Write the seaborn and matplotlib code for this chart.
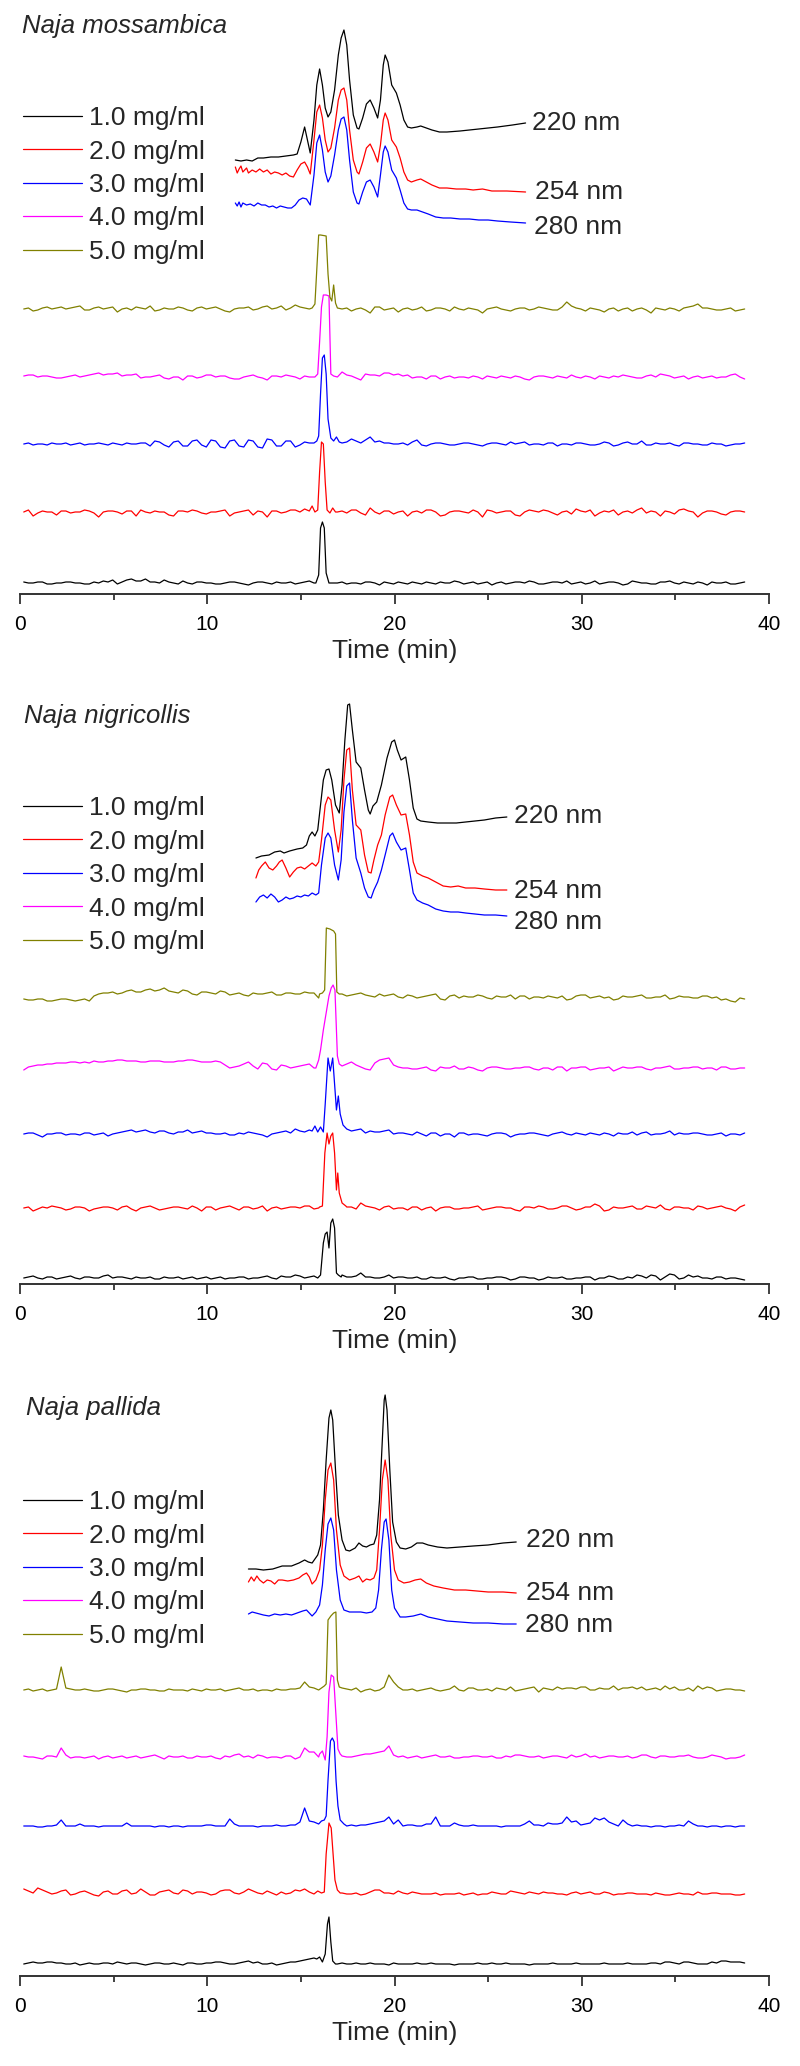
import numpy as np
import matplotlib
matplotlib.use("Agg")
import matplotlib.pyplot as plt
import seaborn as sns

# ------------------------------------------------------------------ data
SPECIES = ["Naja mossambica", "Naja nigricollis", "Naja pallida"]
CONC_LABELS = ["1.0 mg/ml", "2.0 mg/ml", "3.0 mg/ml", "4.0 mg/ml", "5.0 mg/ml"]
WAVELENGTHS = ["220 nm", "254 nm", "280 nm"]
X_TICKS = [0, 10, 20, 30, 40]
X_MINOR = [5, 15, 25, 35]

# ---- Naja mossambica : UV chromatograms (time min, signal)
MOS_220_T = [11.5, 11.8, 12.1, 12.4, 12.7, 13.0, 13.4, 13.8, 14.2, 14.6, 14.8, 15.0, 15.2, 15.35, 15.5, 15.7, 15.85, 16.0, 16.15, 16.3, 16.45, 16.6, 16.8, 17.0, 17.15, 17.3, 17.45, 17.6, 17.8, 18.0, 18.1, 18.3, 18.5, 18.7, 18.9, 19.1, 19.25, 19.4, 19.5, 19.65, 19.85, 20.1, 20.3, 20.5, 20.7, 20.9, 21.2, 21.4, 21.7, 22.0, 22.4, 22.8, 23.5, 24.5, 25.5, 26.3, 27.0]
MOS_220_Y = [434, 433, 434, 433, 436, 436, 437, 437, 438, 439, 440, 452, 467, 454, 441, 474, 509, 525, 509, 486, 477, 482, 504, 539, 556, 564, 549, 514, 479, 466, 465, 476, 490, 494, 486, 476, 494, 529, 539, 532, 509, 501, 489, 474, 467, 466, 467, 468, 466, 464, 462, 462, 463, 465, 467, 469, 471]
MOS_254_T = [11.5, 11.6, 11.7, 11.8, 11.9, 12.1, 12.2, 12.4, 12.6, 12.8, 13.0, 13.2, 13.4, 13.6, 13.8, 14.0, 14.2, 14.4, 14.6, 14.8, 15.0, 15.2, 15.35, 15.5, 15.7, 15.85, 16.0, 16.15, 16.3, 16.45, 16.6, 16.8, 17.0, 17.15, 17.3, 17.45, 17.6, 17.8, 18.0, 18.1, 18.3, 18.5, 18.7, 18.9, 19.1, 19.25, 19.4, 19.5, 19.65, 19.85, 20.1, 20.3, 20.5, 20.7, 20.9, 21.2, 21.4, 21.7, 22.0, 22.4, 22.8, 23.3, 23.8, 24.2, 24.7, 25.2, 26.0, 27.0]
MOS_254_Y = [427, 421, 425, 428, 422, 426, 421, 424, 422, 425, 422, 424, 420, 422, 421, 419, 421, 418, 417, 424, 430, 432, 427, 420, 454, 482, 489, 476, 454, 442, 446, 466, 494, 504, 506, 494, 464, 434, 422, 420, 432, 446, 450, 442, 432, 449, 474, 481, 474, 454, 447, 436, 422, 414, 412, 414, 415, 412, 409, 406, 406, 405, 405, 404, 405, 403, 403, 402]
MOS_280_T = [11.5, 11.6, 11.7, 11.8, 11.9, 12.1, 12.3, 12.5, 12.7, 12.9, 13.1, 13.3, 13.5, 13.7, 13.9, 14.1, 14.3, 14.5, 14.7, 14.9, 15.1, 15.3, 15.5, 15.7, 15.85, 16.0, 16.15, 16.3, 16.45, 16.6, 16.8, 17.0, 17.15, 17.3, 17.45, 17.6, 17.8, 18.0, 18.1, 18.3, 18.5, 18.7, 18.9, 19.1, 19.25, 19.4, 19.5, 19.65, 19.85, 20.1, 20.3, 20.5, 20.7, 20.9, 21.2, 21.5, 21.8, 22.2, 22.6, 23.0, 23.5, 24.0, 24.5, 25.0, 25.5, 26.2, 27.0]
MOS_280_Y = [391, 388, 392, 387, 391, 389, 390, 388, 391, 389, 389, 387, 388, 386, 388, 387, 386, 386, 389, 394, 396, 395, 389, 419, 451, 459, 444, 422, 412, 418, 439, 464, 475, 477, 464, 434, 402, 391, 390, 402, 412, 414, 407, 397, 419, 442, 448, 442, 424, 416, 404, 391, 385, 384, 384, 382, 380, 377, 376, 376, 375, 375, 374, 374, 373, 372, 371]

# ---- Naja mossambica : MS traces (baseline readings on a 0.5-min grid, half-step readings, peak region)
MOS_C1_NOISE = [1, 0, 1, -1, 0, 1, 0, -1, 0, 1, -1, 3, 2, 4, 1, 3, 0, 2, -1, 1, 0, -1, 1, 0, -2, 1, 0, 1, 0, -1, 1, 0, 0, 0, 1, 0, -1, 1, -2, 0, 1, -1, 0, 1, -1, 0, 2, -1, 1, 0, -2, 1, 0, 1, 2, -1, 0, 1, 2, 0, -1, 2, 0, 1, -2, 2, 0, -1, 1, 2, -1, 0, 1, -2, 0, 1, -1, 1]
MOS_C1_MID = [0, 1, -1, 0, 1, 0, -1, 1, 2, 3, 1, 4, 2, 1, 0, 1, -1, 0, 1, 0, -1, 0, 1, -1, 0, 1, -1, 0, 1, 0, 2, 0, 0, 0, -1, 0, 1, 0, 1, -1, 0, 1, -1, 0, 1, 0, 1, 0, -1, 1, 0, -1, 1, 0, 1, -1, 1, 0, -1, 1, 0, -1, 1, 0, -1, 1, 0, -1, 1, 0, 1, -1, 0, 1, 0, -1, 0]
MOS_C2_NOISE = [0, -4, 1, 0, 1, -1, 0, 1, -5, 1, 0, 1, -4, 0, 1, 0, -4, 1, 2, -1, 0, 1, -4, 0, 2, 1, -5, 1, 0, 2, 3, 4, 0, 0, 1, 2, -1, 4, -2, 1, 0, -4, 1, 2, 0, -3, 1, 0, 2, -5, 1, 0, 1, -4, 2, 0, 1, -3, 1, 3, 0, -4, 1, 2, 0, -1, 4, 1, -4, 0, 2, 1, -5, 1, 0, -3, 1, 0]
MOS_C2_MID = [2, -1, 0, -3, 1, 0, 2, -1, 0, 1, -2, 1, 2, -1, 0, -3, 1, 0, 1, -2, 0, 2, -1, 1, -3, 0, 1, -1, 2, 0, 1, 0, 0, 0, -1, 2, -3, 0, 1, -2, 1, 0, -1, 2, -4, 0, 1, -1, 0, 2, -1, 1, -3, 0, 1, 2, -1, 0, -2, 1, 2, -1, 0, -3, 1, 2, -1, 0, 1, -2, 3, 0, -1, 1, -2, 0, 1]
MOS_C3_NOISE = [0, -1, 0, 1, 0, -1, 1, 0, 1, -1, 0, 1, 0, 1, 3, -1, 2, -2, 3, -1, 4, -3, 3, -2, 4, -3, 5, -2, 3, -3, 2, 2, 0, 0, 1, 5, 1, 7, 3, 1, 0, -1, 4, -2, 1, 0, -1, 1, 0, -2, 1, 0, 2, 1, -1, 0, 1, -2, 0, 1, 0, -1, 2, -2, 1, 0, 3, -1, 0, 1, -2, 1, 0, -1, 0, -2, 0, 1]
MOS_C3_MID = [1, 0, -1, 0, 1, 0, -1, 0, 0, 1, -1, 0, 1, -2, 2, -3, 3, -2, 4, -3, 3, -4, 4, -3, 3, -4, 4, -2, 3, -1, 1, 0, 0, 0, 2, 3, 4, 2, 1, 0, 1, 2, -1, 0, 1, -1, 0, 1, -1, 0, 1, -1, 0, 2, 0, -1, 1, 0, -1, 1, -1, 0, 1, -1, 2, 0, -1, 1, 0, -1, 1, 0, -1, 1, 0, -1, 0]
MOS_C4_NOISE = [1, 2, 1, 0, -1, 1, 0, 2, 4, 3, 4, 2, 3, 0, 1, -1, 0, -3, 1, 0, 2, 1, -1, -2, 1, 0, -3, 1, 2, 0, 1, 0, 0, 0, 5, 1, -3, 2, 1, 4, 3, 2, 0, -2, 1, 0, -1, 0, 1, -2, 0, 1, -1, 0, -3, 1, 0, 1, -1, 0, 1, -2, 0, 1, 2, 0, -1, 2, 3, 1, 0, -2, 1, 0, -1, 0, 3, -2]
MOS_C4_MID = [2, 0, 1, -1, 0, 2, 1, 3, 2, 3, 1, 2, -1, 0, 2, -2, 0, 1, -1, 2, 0, 1, -2, 0, 2, -1, 1, 0, 1, -2, 0, 0, 0, 0, 2, -1, 3, 2, 4, 2, 1, -1, 0, 1, -2, 1, 0, -1, 0, 1, -1, 0, 1, -2, 0, 1, -1, 0, 2, -1, 0, 1, -1, 0, 1, -1, 1, 0, 2, -1, 1, 0, -1, 1, 0, 2, 0]
MOS_C5_NOISE = [0, -2, 1, 0, 2, 1, 3, -1, 2, 1, -3, 1, 2, 0, -2, 1, 0, 1, -2, 2, 1, 0, -3, 1, 2, 0, 3, 1, -1, 4, 1, 2, 0, 0, 0, -2, 1, -4, 2, 0, -3, 1, 0, -2, 1, 0, 2, -1, 0, -4, 1, 0, -2, 1, -1, 2, 0, -1, 7, 1, -2, 0, -3, 1, 0, -2, 1, -4, 0, 1, -2, 2, 5, 1, -1, 0, -2, 0]
MOS_C5_MID = [1, -1, 2, 1, 0, 2, -1, 1, 0, 2, 0, -1, 1, 3, -1, 0, 2, -1, 1, 0, 2, -2, 0, 1, -1, 2, 0, 3, 1, 2, 0, 0, 0, 0, 1, 0, -1, 2, -1, 1, 0, -1, 2, -1, 1, -2, 0, 1, -1, 0, 2, -1, 0, 1, 0, 1, -1, 2, 3, 0, 1, -1, 0, -2, 1, 0, -1, 1, -1, 0, 1, 3, 1, 0, -1, 1, -1]
MOS_C1_PEAK_T = [15.8, 15.95, 16.05, 16.15, 16.25, 16.35, 16.5]
MOS_C1_PEAK_V = [0, 8, 55, 61, 55, 10, 0]
MOS_C2_PEAK_T = [15.6, 15.75, 15.9, 16.0, 16.1, 16.2, 16.3, 16.4, 16.55, 16.7, 16.85]
MOS_C2_PEAK_V = [6, 0, 2, 40, 70, 68, 30, 2, -1, 4, 0]
MOS_C3_PEAK_T = [15.7, 15.85, 15.95, 16.05, 16.15, 16.25, 16.35, 16.45, 16.6, 16.75, 16.9, 17.05]
MOS_C3_PEAK_V = [1, 3, 8, 50, 86, 89, 70, 25, 6, 3, 7, 2]
MOS_C4_PEAK_T = [15.75, 15.9, 16.0, 16.1, 16.2, 16.35, 16.5, 16.6, 16.75]
MOS_C4_PEAK_V = [0, 3, 35, 70, 82, 82, 81, 3, 1]
MOS_C5_PEAK_T = [15.6, 15.75, 15.85, 15.95, 16.05, 16.35, 16.45, 16.55, 16.65, 16.75, 16.85, 16.95]
MOS_C5_PEAK_V = [1, 5, 40, 74, 74, 73, 35, 12, 8, 24, 6, 1]

# ---- Naja nigricollis
NIG_220_T = [12.6, 12.9, 13.3, 13.6, 13.9, 14.1, 14.4, 14.8, 15.1, 15.3, 15.45, 15.6, 15.75, 15.9, 16.05, 16.2, 16.35, 16.5, 16.65, 16.85, 17.05, 17.2, 17.35, 17.5, 17.6, 17.75, 17.95, 18.2, 18.4, 18.6, 18.7, 18.85, 19.05, 19.3, 19.6, 19.85, 20.0, 20.15, 20.35, 20.6, 20.8, 21.0, 21.2, 21.4, 21.8, 22.3, 22.8, 23.3, 23.8, 24.3, 24.8, 25.4, 26.0]
NIG_220_Y = [426, 428, 429, 432, 433, 431, 433, 435, 436, 439, 448, 452, 448, 454, 479, 504, 514, 515, 504, 479, 471, 499, 544, 579, 580, 554, 522, 516, 494, 474, 470, 478, 482, 499, 526, 542, 544, 534, 524, 527, 504, 476, 465, 463, 462, 461, 461, 461, 462, 463, 464, 466, 467]
NIG_254_T = [12.6, 12.75, 12.9, 13.1, 13.3, 13.5, 13.7, 13.85, 14.0, 14.2, 14.4, 14.6, 14.8, 15.0, 15.2, 15.4, 15.6, 15.8, 15.95, 16.1, 16.3, 16.45, 16.6, 16.8, 17.0, 17.15, 17.3, 17.45, 17.6, 17.75, 17.95, 18.2, 18.4, 18.6, 18.75, 18.9, 19.1, 19.3, 19.5, 19.75, 19.9, 20.1, 20.35, 20.6, 20.8, 21.0, 21.2, 21.5, 21.8, 22.2, 22.6, 23.0, 23.4, 23.8, 24.3, 24.8, 25.4, 26.0]
NIG_254_Y = [406, 414, 418, 422, 416, 414, 418, 422, 424, 416, 407, 412, 416, 417, 415, 418, 421, 418, 422, 444, 479, 487, 484, 454, 432, 454, 504, 534, 536, 494, 459, 454, 429, 412, 411, 424, 439, 449, 469, 487, 489, 479, 469, 470, 449, 422, 411, 408, 406, 402, 398, 397, 398, 396, 396, 395, 394, 394]
NIG_280_T = [12.6, 12.8, 13.0, 13.2, 13.4, 13.6, 13.8, 14.0, 14.2, 14.4, 14.6, 14.8, 15.0, 15.2, 15.4, 15.6, 15.8, 15.95, 16.1, 16.3, 16.45, 16.6, 16.8, 17.0, 17.15, 17.3, 17.45, 17.6, 17.75, 17.95, 18.2, 18.4, 18.6, 18.75, 18.9, 19.1, 19.3, 19.5, 19.75, 19.9, 20.1, 20.35, 20.6, 20.8, 21.0, 21.2, 21.5, 21.8, 22.2, 22.6, 23.0, 23.4, 23.8, 24.3, 24.8, 25.4, 26.0]
NIG_280_Y = [382, 387, 389, 386, 390, 387, 382, 384, 387, 385, 386, 388, 387, 389, 388, 391, 389, 391, 419, 446, 451, 446, 419, 404, 424, 472, 498, 501, 464, 426, 411, 396, 387, 386, 394, 402, 414, 429, 448, 451, 442, 434, 436, 414, 391, 384, 381, 379, 375, 373, 372, 372, 371, 370, 369, 369, 368]

NIG_C1_NOISE = [0, 2, -1, 1, 0, 2, -1, 1, 0, 3, 1, 0, 1, 0, -1, 1, 0, -1, 1, 0, -1, 1, 0, 1, -1, 0, 2, -1, 1, 3, 0, 2, 0, 0, 3, 1, 5, 1, 0, 3, 1, 0, 1, -1, 0, 1, -2, 0, 1, -1, 0, 1, -2, 1, 0, -2, 1, 0, -1, 0, 1, -2, 0, 1, -1, 0, 2, 3, -2, 4, -1, 3, 2, 0, 1, -1, 0, -2]
NIG_C1_MID = [1, 0, 1, -1, 1, 0, 1, 0, 2, 0, 1, -1, 0, 1, -1, 0, 1, 0, -1, 1, 0, -1, 0, 1, 0, 1, 0, 2, 1, 2, 1, 0, 0, 0, 1, 2, 1, 0, 1, 0, 1, 0, -1, 1, 0, -1, 0, 1, -1, 0, 1, 0, -1, 1, 0, -1, 0, 1, -1, 0, 1, 0, 2, -1, 1, 3, 0, 2, 1, 3, 0, 1, 0, -1, 1, 0, -1]
NIG_C2_NOISE = [0, -3, 1, 2, 0, -1, 1, -3, 0, 1, -2, 2, -3, 1, 0, -1, 1, 0, 2, -3, 1, 0, 2, -2, 1, 0, -3, 1, 0, 1, 2, -1, 0, 0, 2, 1, 5, 1, -2, 2, 0, -2, 1, 0, -3, 1, -1, 0, 1, -2, 0, 1, 0, -3, 1, 2, -1, 0, 2, -2, 1, 4, -3, 1, 0, 2, -1, 1, 3, -2, 1, 0, 2, -1, 1, 0, -3, 3]
NIG_C2_MID = [1, -1, 0, 1, -2, 1, 0, -1, 1, 0, 1, -1, 0, 2, -2, 0, 1, -1, 0, 1, -2, 1, 0, 1, -1, 2, 0, -1, 1, 0, 2, 0, 0, 0, 1, -1, 2, 0, 1, -1, 0, 1, -2, 1, 0, 1, -1, 0, 2, -1, 1, 0, -2, 1, 0, 1, -1, 2, 0, -1, 1, 2, -2, 0, 1, -1, 2, 0, -1, 1, 0, -2, 1, 0, 2, -1, 1]
NIG_C3_NOISE = [0, 1, -3, 0, 1, 0, -1, 1, 0, -2, 1, 3, 2, 4, 1, 3, 0, 2, 1, 3, 1, 0, -1, 1, 2, 0, -3, 1, 3, 5, 2, 6, 0, 0, 0, 3, 5, 3, 2, 4, 1, 0, 2, -2, 1, 0, -3, 1, 0, -1, 0, 1, -3, 0, 1, 0, -2, 1, 0, 1, -1, 0, 1, -2, 0, 2, 1, -1, 0, 3, 1, 0, 1, -1, 0, -2, 0, 1]
NIG_C3_MID = [1, -1, 0, 1, -1, 0, 1, -1, 1, 0, 2, 4, 3, 2, 3, 1, 2, 4, 2, 1, 0, 1, -1, 0, 1, -1, 0, 2, 1, 3, 4, 0, 0, 0, 2, 4, 1, 2, 3, 0, 1, -1, 0, 1, -2, 0, 1, -1, 0, -2, 1, 0, -1, 0, 1, -1, 0, 2, -1, 0, 1, -1, 0, 1, 0, -1, 2, 0, 1, -1, 0, 1, 0, -1, 1, 0, -1]
NIG_C4_NOISE = [-2, 2, 3, 4, 5, 6, 5, 5, 6, 7, 8, 7, 7, 6, 7, 6, 6, 7, 8, 6, 6, 6, 0, 2, 6, -1, 4, -2, 2, 1, 3, 0, 0, 0, 2, 6, 1, -2, 8, 10, 1, 0, -1, 1, -3, 0, 2, -1, 0, -3, 1, 0, -1, 0, 1, -2, 0, 1, -3, 0, 1, -1, 0, -3, 1, 0, 1, -2, 0, 2, -1, 0, 1, 0, -2, 1, -1, 0]
NIG_C4_MID = [1, 3, 4, 5, 5, 6, 6, 7, 6, 7, 8, 7, 6, 7, 7, 6, 7, 8, 7, 6, 7, 3, 1, 4, 2, 5, -1, 3, 0, 2, 4, 0, 0, 0, 4, 3, -1, 5, 9, 3, 0, -1, 0, -2, 1, 0, -1, 1, -2, 0, 1, -1, 0, 1, -1, 0, -2, 1, 0, 1, -2, 0, 1, -1, 0, 1, -1, 0, 1, -1, 0, 1, -1, 0, 1, -1, 0]
NIG_C5_NOISE = [-1, -2, -1, -3, -1, -2, -2, -3, 4, 5, 4, 7, 6, 8, 7, 10, 6, 8, 4, 6, 5, 7, 3, 5, 2, 4, 5, 3, 5, 4, 6, 5, 0, 0, 4, 3, 5, 2, 4, 3, 1, 3, 0, 2, 4, -2, 3, 2, 1, 2, -1, 1, 3, 2, -1, 1, 2, 0, -2, 2, 3, 1, 0, -2, 2, 1, 3, 0, 1, -1, 2, 1, 0, 2, 1, -1, -4, -1]
NIG_C5_MID = [-2, -1, -3, -2, -1, -3, -1, 2, 5, 6, 5, 8, 6, 9, 8, 7, 5, 7, 3, 6, 4, 6, 4, 3, 5, 4, 6, 3, 5, 4, 5, 0, 0, 0, 2, 4, 3, 1, 2, 4, 0, 2, 1, 3, -1, 2, 0, 1, 3, 0, 2, 1, -1, 2, 1, 0, 1, 2, -1, 3, 0, 2, 1, -1, 1, 2, 0, 1, 3, 0, 1, 0, 2, 0, -2, -3, 0]
NIG_C1_PEAK_T = [15.9, 16.05, 16.2, 16.3, 16.4, 16.5, 16.6, 16.7, 16.8, 16.9, 17.0, 17.15]
NIG_C1_PEAK_V = [0, 3, 35, 44, 46, 30, 55, 59, 50, 5, 3, 1]
NIG_C2_PEAK_T = [16.0, 16.15, 16.28, 16.4, 16.5, 16.6, 16.7, 16.8, 16.9, 16.97, 17.05, 17.2, 17.4]
NIG_C2_PEAK_V = [1, 2, 55, 75, 64, 72, 75, 55, 18, 35, 15, 5, 2]
NIG_C3_PEAK_T = [15.6, 15.75, 15.9, 16.05, 16.2, 16.3, 16.45, 16.57, 16.7, 16.8, 16.9, 17.0, 17.1, 17.25, 17.45]
NIG_C3_PEAK_V = [3, 8, 2, 7, 2, 30, 76, 63, 76, 50, 24, 38, 20, 9, 5]
NIG_C4_PEAK_T = [15.8, 15.95, 16.05, 16.2, 16.35, 16.5, 16.62, 16.72, 16.82, 16.95, 17.05]
NIG_C4_PEAK_V = [0, 8, 18, 38, 55, 72, 80, 83, 78, 12, 4]
NIG_C5_PEAK_T = [16.0, 16.15, 16.27, 16.36, 16.55, 16.75, 16.85, 16.92, 17.05]
NIG_C5_PEAK_V = [4, 5, 8, 70, 69, 67, 64, 6, 4]

# ---- Naja pallida
PAL_220_T = [12.2, 12.6, 13.0, 13.5, 14.0, 14.5, 14.9, 15.2, 15.4, 15.6, 15.9, 16.05, 16.2, 16.35, 16.5, 16.6, 16.7, 16.85, 17.0, 17.2, 17.4, 17.6, 17.9, 18.1, 18.3, 18.5, 18.7, 18.9, 19.05, 19.2, 19.35, 19.45, 19.5, 19.6, 19.75, 19.9, 20.1, 20.3, 20.6, 20.9, 21.2, 21.5, 21.8, 22.3, 22.8, 23.5, 24.2, 25.0, 25.8, 26.5]
PAL_220_Y = [407, 407, 406, 407, 410, 410, 413, 416, 414, 413, 421, 431, 466, 516, 558, 566, 556, 506, 461, 436, 426, 425, 428, 433, 430, 429, 431, 432, 441, 476, 536, 576, 581, 566, 506, 454, 434, 428, 427, 429, 433, 433, 431, 429, 428, 429, 430, 431, 433, 434]
PAL_254_T = [12.2, 12.35, 12.5, 12.65, 12.8, 13.0, 13.2, 13.4, 13.6, 13.8, 14.0, 14.3, 14.6, 14.9, 15.1, 15.3, 15.45, 15.6, 15.8, 16.0, 16.15, 16.3, 16.45, 16.6, 16.75, 16.9, 17.1, 17.3, 17.6, 17.9, 18.1, 18.3, 18.5, 18.7, 18.9, 19.05, 19.2, 19.35, 19.5, 19.65, 19.8, 20.0, 20.2, 20.5, 20.8, 21.1, 21.4, 21.7, 22.1, 22.6, 23.2, 23.8, 24.4, 25.0, 25.8, 26.5]
PAL_254_Y = [394, 399, 395, 400, 396, 393, 396, 395, 392, 396, 396, 395, 396, 398, 401, 403, 399, 392, 396, 406, 431, 476, 506, 513, 496, 446, 411, 400, 396, 398, 400, 394, 397, 396, 398, 406, 446, 496, 516, 496, 441, 406, 396, 393, 394, 396, 397, 393, 390, 388, 386, 386, 385, 384, 384, 383]
PAL_280_T = [12.2, 12.4, 12.6, 12.8, 13.0, 13.3, 13.6, 13.9, 14.2, 14.5, 14.8, 15.1, 15.3, 15.5, 15.6, 15.8, 16.0, 16.15, 16.3, 16.45, 16.6, 16.75, 16.9, 17.1, 17.3, 17.6, 17.9, 18.2, 18.5, 18.8, 19.0, 19.15, 19.3, 19.45, 19.55, 19.7, 19.85, 20.0, 20.3, 20.6, 21.0, 21.4, 21.8, 22.3, 22.8, 23.5, 24.2, 25.0, 25.8, 26.5]
PAL_280_Y = [362, 364, 363, 362, 361, 360, 362, 361, 362, 361, 363, 365, 366, 362, 360, 364, 371, 391, 426, 452, 458, 446, 406, 376, 366, 364, 364, 364, 363, 364, 368, 386, 426, 454, 457, 436, 386, 368, 359, 359, 360, 362, 359, 357, 355, 354, 353, 353, 352, 352]

PAL_C1_NOISE = [0, 2, 1, 2, 1, 0, -1, 1, 0, 1, 2, 0, 1, -1, 1, 0, 1, -1, 1, 0, 1, 2, 0, 1, 3, 2, 0, -1, 1, 2, 4, 6, 0, 0, 1, 0, 0, 1, 0, -1, 0, 0, 1, 0, 0, 0, -1, 0, 0, 0, 1, 0, 0, 0, -1, 0, 0, 0, 0, 1, 0, 0, 1, 0, 0, 0, 0, 1, 0, 2, 0, 2, 0, 0, 1, 3, 2, 1]
PAL_C1_MID = [1, 1, 2, 1, 0, 1, 0, 0, 1, 0, 1, 1, 0, 0, 1, 0, 0, 1, 0, 1, 2, 1, 0, 2, 1, 0, 1, 0, 2, 3, 5, 0, 0, 0, 0, 1, 0, 0, 0, 1, 0, 0, 0, 1, 0, 0, 0, 0, 1, 0, 0, 1, 0, 0, 0, 0, 1, 0, 0, 0, 0, 0, 0, 0, 1, 0, 0, 1, 2, 1, 2, 1, 0, 2, 3, 2, 2]
PAL_C2_NOISE = [5, 1, 4, 0, 3, -1, 2, 1, -2, 3, 0, 4, 1, 2, -1, 3, 1, 4, 0, 2, -1, 3, 4, 0, 5, 1, 3, -1, 0, 4, 5, 0, 0, 0, 1, 0, -1, 2, 4, 1, 3, 0, 1, 0, 1, 0, 0, -1, 1, 0, 2, 0, 3, 1, 2, 0, 1, 0, -1, 2, 1, 0, 2, -1, 0, 1, 0, -1, 0, -1, 1, 0, 2, 0, 1, 0, -1, 0]
PAL_C2_MID = [3, 6, 2, 1, 4, 0, 3, -1, 2, 0, 3, 0, 5, -1, 2, 4, 0, 3, 2, 1, 0, 4, 1, 2, 3, 0, 1, 2, 1, 3, 2, 0, 0, 0, 0, 1, 0, 4, 1, 0, 1, 2, 0, 0, -1, 0, 1, 0, -1, 0, 1, 0, 2, 0, 1, 2, 1, 0, 1, 0, 2, 0, 1, 0, 1, 0, 0, 1, -1, 0, 0, -1, 0, 1, 0, 0, -1]
PAL_C3_NOISE = [0, 0, -1, 0, 6, 0, 2, 0, -1, 0, 0, 3, 0, 0, -1, 0, 0, -1, 0, 0, 1, 0, 7, 0, 0, -1, 0, 1, 0, 1, 18, 4, 0, 0, 0, 1, 1, 2, 4, 9, 6, 1, 0, 2, 9, 0, 3, 0, 1, 0, 0, -1, 0, 0, 5, 1, 3, 2, 9, 5, 2, 8, 8, 2, 6, 0, 0, -1, 0, 0, 1, 5, 0, -1, 0, 0, -1, 0]
PAL_C3_MID = [0, -1, 0, 1, 0, 0, 0, 0, 0, 0, 0, 0, 0, 0, 0, -1, 0, 0, 0, 1, 0, 0, 2, 0, 0, 0, 0, 0, 1, 4, 5, 2, 0, 0, 0, 0, 1, 3, 5, 2, 0, 1, 0, 2, 0, 0, 1, 0, 0, 0, 0, 0, 0, 2, 1, 0, 2, 3, 4, 1, 3, 6, 4, 0, 2, 1, 0, 0, -1, 0, 0, 2, 0, 0, -1, 0, 0]
PAL_C4_NOISE = [1, 0, -2, 1, 9, -1, 0, 0, -2, 1, 0, -1, 1, 0, 2, -2, 0, 1, -1, 0, 1, -2, 0, 3, 1, 2, -1, 0, 1, -2, 9, 5, 0, 0, 1, 0, 2, 3, 5, 11, 0, -1, 1, 0, 2, 0, -1, 0, 1, 0, 1, -1, 0, 2, 0, 1, 0, 1, -1, 0, 3, 1, 0, 1, 0, -1, 2, 0, 1, 0, 1, 2, -1, 0, 1, -2, -1, 2]
PAL_C4_MID = [0, -1, 1, 0, 2, 0, -1, 1, 0, -1, 1, 0, -1, 1, 0, 1, 0, -1, 1, 0, -1, 1, 2, 0, -1, 1, 0, -1, 1, 0, 5, 0, 0, 0, 0, 1, 3, 4, 6, 2, 1, 0, -1, 1, 0, 1, -1, 0, 1, 0, -1, 1, 2, 1, 0, -1, 1, 0, 2, 1, 0, -1, 1, 0, 1, 0, 2, -1, 1, 0, 1, 0, -1, 2, 0, -1, 0]
PAL_C5_NOISE = [0, -1, 1, 0, 23, 1, 0, 0, -1, 1, 0, -2, 0, 1, 0, -1, 0, 0, 1, -1, 0, 1, 0, 2, 0, -1, 0, 1, 0, 1, 8, 2, 0, 0, 3, 0, -2, 1, 0, 15, 3, 0, -1, 1, 0, 0, 4, -1, 2, 0, -1, 1, 3, 0, 2, -2, 1, 3, 2, 1, 3, 0, 1, 4, 2, 3, 3, 1, 0, 1, 0, 2, 4, 3, -1, 1, 0, -1]
PAL_C5_MID = [1, 0, -1, 1, 2, 0, 1, -1, 0, 1, -1, 0, 1, 0, -1, 1, 0, -1, 0, 1, 0, -1, 1, 0, 1, 0, -1, 0, 1, 2, 3, 0, 0, 0, 1, 2, 0, -1, 3, 8, 0, 1, 0, 2, -1, 1, 0, 2, 0, 1, 2, 0, -1, 1, 3, 2, 0, 1, 2, 3, 0, 2, 1, 0, 2, 1, 0, 2, 4, 3, 0, -1, 1, 2, 0, 1, 0]
PAL_C1_PEAK_T = [15.7, 15.85, 16.0, 16.15, 16.3, 16.42, 16.5, 16.6, 16.7, 16.85]
PAL_C1_PEAK_V = [6, 5, 7, 2, 10, 40, 47, 22, 3, 0]
PAL_C2_PEAK_T = [15.9, 16.1, 16.25, 16.35, 16.5, 16.62, 16.72, 16.82, 16.95, 17.1]
PAL_C2_PEAK_V = [3, 1, 2, 40, 71, 66, 40, 14, 4, 1]
PAL_C3_PEAK_T = [16.1, 16.25, 16.35, 16.45, 16.58, 16.68, 16.78, 16.88, 16.98, 17.1, 17.3]
PAL_C3_PEAK_V = [5, 6, 10, 46, 85, 88, 84, 45, 20, 6, 2]
PAL_C4_PEAK_T = [16.0, 16.15, 16.3, 16.4, 16.5, 16.62, 16.75, 16.88, 16.98, 17.1]
PAL_C4_PEAK_V = [3, 6, -3, 20, 65, 82, 80, 40, 8, 3]
PAL_C5_PEAK_T = [16.1, 16.25, 16.35, 16.45, 16.6, 16.75, 16.87, 16.95, 17.05, 17.2]
PAL_C5_PEAK_V = [2, 4, 6, 70, 74, 77, 78, 10, 3, 2]

# ------------------------------------------------------------------ style / layout
COLORS = ["#000000", "#ff0000", "#0000ff", "#ff00ff", "#808000"]
UV_COLORS = ["#000000", "#ff0000", "#0000ff"]
STACK_OFFSETS = [[11, 82, 150, 217, 285], [6, 76, 150, 216, 286], [12, 82, 150, 219, 286]]
AXIS_PX = [594, 1284, 1976]
PANEL_H = 594
TITLE_POS = [(0.1, 568), (0.2, 568), (0.3, 568)]
WL_POS = [[(27.35, 471), (27.5, 402), (27.45, 367)],
          [(26.4, 468), (26.4, 393), (26.4, 362)],
          [(27.0, 436), (27.0, 383), (26.95, 351)]]
LEGEND_TOP = [488, 488, 486]

sns.set_style("white")
plt.rcParams["font.family"] = ["Liberation Sans", "DejaVu Sans"]
FS, TFS = 19, 15

fig = plt.figure(figsize=(8, 20.66), dpi=100)
W, HFIG = 800, 2066
AX_LEFT, AX_W = 20, 749


def ms_trace(noise, mid, pk_t, pk_v):
    t = np.concatenate([np.linspace(0.2, 38.7, len(noise)), np.linspace(0.45, 38.45, len(mid))])
    v = np.concatenate([np.asarray(noise, float), np.asarray(mid, float)])
    keep = (t < min(pk_t)) | (t > max(pk_t))
    tt = np.concatenate([t[keep], pk_t])
    vv = np.concatenate([v[keep], pk_v])
    o = np.argsort(tt)
    return tt[o], vv[o]


panels = [
    dict(uv=[(MOS_220_T, MOS_220_Y), (MOS_254_T, MOS_254_Y), (MOS_280_T, MOS_280_Y)],
         ms=[(MOS_C1_NOISE, MOS_C1_MID, MOS_C1_PEAK_T, MOS_C1_PEAK_V),
             (MOS_C2_NOISE, MOS_C2_MID, MOS_C2_PEAK_T, MOS_C2_PEAK_V),
             (MOS_C3_NOISE, MOS_C3_MID, MOS_C3_PEAK_T, MOS_C3_PEAK_V),
             (MOS_C4_NOISE, MOS_C4_MID, MOS_C4_PEAK_T, MOS_C4_PEAK_V),
             (MOS_C5_NOISE, MOS_C5_MID, MOS_C5_PEAK_T, MOS_C5_PEAK_V)]),
    dict(uv=[(NIG_220_T, NIG_220_Y), (NIG_254_T, NIG_254_Y), (NIG_280_T, NIG_280_Y)],
         ms=[(NIG_C1_NOISE, NIG_C1_MID, NIG_C1_PEAK_T, NIG_C1_PEAK_V),
             (NIG_C2_NOISE, NIG_C2_MID, NIG_C2_PEAK_T, NIG_C2_PEAK_V),
             (NIG_C3_NOISE, NIG_C3_MID, NIG_C3_PEAK_T, NIG_C3_PEAK_V),
             (NIG_C4_NOISE, NIG_C4_MID, NIG_C4_PEAK_T, NIG_C4_PEAK_V),
             (NIG_C5_NOISE, NIG_C5_MID, NIG_C5_PEAK_T, NIG_C5_PEAK_V)]),
    dict(uv=[(PAL_220_T, PAL_220_Y), (PAL_254_T, PAL_254_Y), (PAL_280_T, PAL_280_Y)],
         ms=[(PAL_C1_NOISE, PAL_C1_MID, PAL_C1_PEAK_T, PAL_C1_PEAK_V),
             (PAL_C2_NOISE, PAL_C2_MID, PAL_C2_PEAK_T, PAL_C2_PEAK_V),
             (PAL_C3_NOISE, PAL_C3_MID, PAL_C3_PEAK_T, PAL_C3_PEAK_V),
             (PAL_C4_NOISE, PAL_C4_MID, PAL_C4_PEAK_T, PAL_C4_PEAK_V),
             (PAL_C5_NOISE, PAL_C5_MID, PAL_C5_PEAK_T, PAL_C5_PEAK_V)]),
]

LW = 0.9
for k, p in enumerate(panels):
    bottom = 1 - AXIS_PX[k] / HFIG
    ax = fig.add_axes([AX_LEFT / W, bottom, AX_W / W, PANEL_H / HFIG])
    handles = []
    for j, (noise, mid, pt, pv) in enumerate(p["ms"]):
        t, v = ms_trace(noise, mid, pt, pv)
        sns.lineplot(x=t, y=v + STACK_OFFSETS[k][j], ax=ax, color=COLORS[j], linewidth=LW,
                     estimator=None, sort=False)
        handles.append(ax.lines[-1])
    for j, (t, y) in enumerate(p["uv"]):
        sns.lineplot(x=np.asarray(t), y=np.asarray(y, float), ax=ax, color=UV_COLORS[j],
                     linewidth=LW, estimator=None, sort=False)
        ax.text(WL_POS[k][j][0], WL_POS[k][j][1], WAVELENGTHS[j], fontsize=FS,
                va="center", ha="left")
    ax.text(TITLE_POS[k][0], TITLE_POS[k][1], SPECIES[k], fontsize=FS - 0.5, style="italic",
            va="center", ha="left")
    ax.legend(handles, CONC_LABELS, loc="upper left",
              bbox_to_anchor=(0.004, LEGEND_TOP[k] / PANEL_H), frameon=False,
              fontsize=FS, handlelength=2.25, handletextpad=0.27, labelspacing=0.36,
              borderpad=0, borderaxespad=0)
    ax.set_xlim(0, 40)
    ax.set_ylim(0, PANEL_H)
    ax.set_xticks(X_TICKS)
    ax.set_xticks(X_MINOR, minor=True)
    ax.set_xticklabels([str(x) for x in X_TICKS])
    ax.set_yticks([])
    ax.set_ylabel("")
    ax.set_xlabel("Time (min)", fontsize=FS, labelpad=4)
    ax.tick_params(axis="x", which="major", length=7, width=1.3, direction="out",
                   labelsize=TFS, pad=8, colors="#333333", labelcolor="black", bottom=True)
    ax.tick_params(axis="x", which="minor", length=4.3, width=1.3, direction="out",
                   colors="#333333", bottom=True)
    for s in ["left", "right", "top"]:
        ax.spines[s].set_visible(False)
    ax.spines["bottom"].set_color("#333333")
    ax.spines["bottom"].set_linewidth(1.4)
    ax.patch.set_alpha(0)
    ax.grid(False)

fig.savefig("out.png", dpi=100)
